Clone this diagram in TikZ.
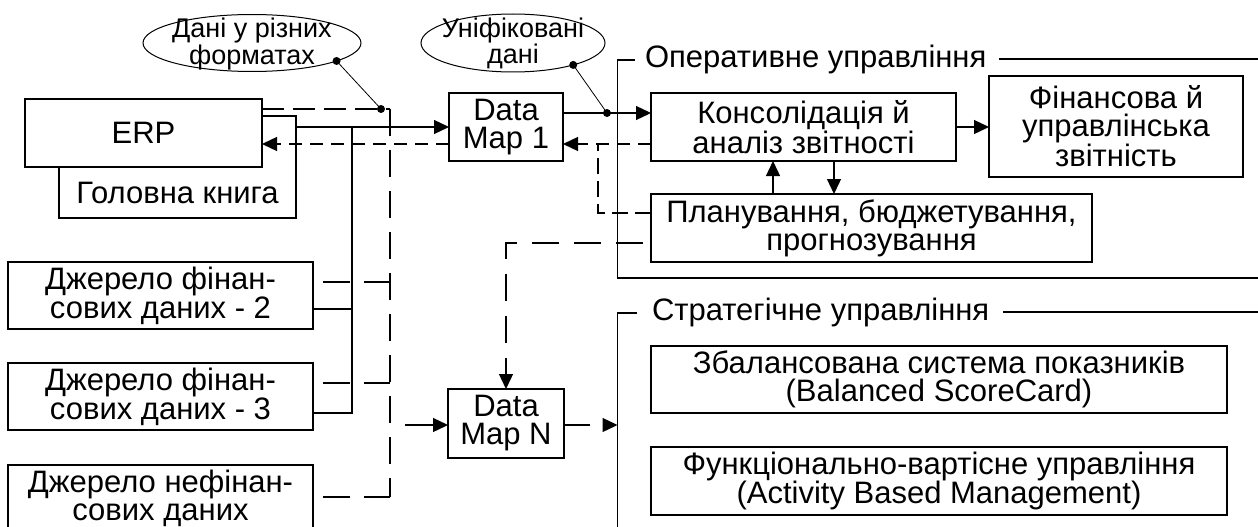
\documentclass[tikz,border=0pt]{standalone}
\usepackage{fontspec}
\setmainfont{Liberation Sans}
\usetikzlibrary{arrows.meta,shapes.geometric,calc}

\begin{document}
\begin{tikzpicture}[x=1pt,y=-1pt,
  every node/.style={inner sep=0pt,outer sep=0pt},
  box/.style={draw,fill=white,line width=1.3pt,align=center,
    font=\fontsize{31}{28}\selectfont},
  txt/.style={align=center,font=\fontsize{31}{28}\selectfont},
  oval/.style={ellipse,draw,line width=1pt},
  otxt/.style={align=center,font=\fontsize{27}{20.5}\selectfont},
  conn/.style={line width=1.3pt},
  pin/.style={line width=0.8pt},
  tip/.style={-{Triangle[length=15pt,width=14pt]}},
  busdash/.style={dash pattern=on 27pt off 14pt},
  srcdash/.style={dash pattern=on 27pt off 14pt,dash phase=31pt},
  backdash/.style={dash pattern=on 13pt off 8pt},
]
\useasboundingbox (0,0) rectangle (1258,527);
\clip (0,0) rectangle (1258,527);

% callouts
\node[oval,minimum width=218pt,minimum height=57pt] (e1) at (252,43) {};
\node[otxt] (e1t) at (252,44) {Дані у різних\\форматах};
\node[oval,minimum width=184pt,minimum height=58pt] (e2) at (513,43) {};
\node[otxt] (e2t) at (513,43) {Уніфіковані\\дані};

% sources
\node[box,minimum width=237pt,minimum height=102pt] (gk) at (177.5,167) {};
\node[txt] (gkt) at (177.5,193) {Головна книга};
\node[box,minimum width=237pt,minimum height=68pt] (erp) at (143.5,133) {ERP};
\node[box,minimum width=305pt,minimum height=67pt] (src2) at (160.5,295.5)
  {Джерело фінан-\\сових даних - 2};
\node[box,minimum width=305pt,minimum height=67pt] (src3) at (160.5,396.5)
  {Джерело фінан-\\сових даних - 3};
\node[box,minimum width=305pt,minimum height=67pt] (src4) at (160.5,498.5)
  {Джерело нефінан-\\сових даних};

% data maps
\node[box,minimum width=114pt,minimum height=68pt] (dm1) at (506,127) {Data\\Map 1};
\node[box,minimum width=116pt,minimum height=69pt] (dmn) at (506,423.5) {Data\\Map N};

% operational management
\node[txt,anchor=base west] (opl) at (645,67) {Оперативне управління};
\node[box,minimum width=305pt,minimum height=68pt] (cons) at (803.5,127)
  {Консолідація й\\аналіз звітності};
\node[box,minimum width=254pt,minimum height=101pt] (fin) at (1116,126.5)
  {Фінансова й\\управлінська\\звітність};
\node[box,minimum width=441pt,minimum height=68pt] (plan) at (871.5,228)
  {Планування, бюджетування,\\прогнозування};

% strategic management
\node[txt,anchor=base west] (spl) at (652,320) {Стратегічне управління};
\node[box,minimum width=576pt,minimum height=67pt] (bsc) at (939,379.5)
  {Збалансована система показників\\(Balanced ScoreCard)};
\node[box,minimum width=576pt,minimum height=68pt] (abm) at (939,481)
  {Функціонально-вартісне управління\\(Activity Based Management)};

% group frames
\draw[conn] (635,60) -- (617.5,60) -- (617.5,278) -- (1260,278);
\draw[conn] (999,59) -- (1260,59);
\draw[conn] (637,313) -- (617.5,313) -- (617.5,530);
\draw[conn] (1003,312) -- (1260,312);

% financial data bus (solid)
\coordinate (sb) at (352,127);
\coordinate (s2s) at ($(src2.east)+(0,13.5)$);
\coordinate (s3s) at ($(src3.east)+(0,16.5)$);
\draw[conn,tip] (gk.east |- dm1.west) -- (dm1.west);
\draw[conn] (s2s) -- (sb |- s2s);
\draw[conn] (s3s) -- (sb |- s3s) -- (sb);

% raw data bus (dashed)
\coordinate (db) at (390,109);
\coordinate (s2d) at ($(src2.east)+(0,-13.5)$);
\coordinate (s3d) at ($(src3.east)+(0,-13.5)$);
\coordinate (s4d) at ($(src4.east)+(0,-1.5)$);
\draw[conn,dash pattern=on 22pt off 9pt] (erp.east |- db) -- (db);
\draw[conn,busdash] (db) -- (db |- s4d);
\draw[conn,srcdash] (s2d) -- (db |- s2d);
\draw[conn,srcdash] (s3d) -- (db |- s3d);
\draw[conn,srcdash] (s4d) -- (db |- s4d);
\coordinate (dnin) at (405,425);
\draw[conn,tip] (dnin) -- (dmn.west |- dnin);

% unified data
\coordinate (u) at ($(dm1.east)+(0,-14)$);
\draw[conn,tip] (u) -- (cons.west |- u);
\coordinate (sx) at (617.5,425);
\draw[conn,dash pattern=on 26pt off 40pt,tip] (dmn.east |- sx) -- (sx);

% feedback
\coordinate (b1) at ($(cons.west)+(0,17)$);
\coordinate (b0) at ($(dm1.west)+(0,17)$);
\draw[conn,backdash,tip] (b1) -- (dm1.east |- b1);
\draw[conn,backdash,tip] (b0) -- (erp.east |- b0);
\coordinate (pf) at ($(plan.west)+(0,-15)$);
\coordinate (fx) at (598,144);
\draw[conn,dash pattern=on 16pt off 7pt] (pf) -| (fx);
\coordinate (pn) at ($(plan.west)+(0,15)$);
\draw[conn,dash pattern=on 27pt off 15pt,dash phase=34pt,tip] (pn) -| (dmn.north);

% consolidation <-> planning, reporting
\coordinate (ua) at ($(cons.south)+(-30.5,0)$);
\coordinate (da) at ($(cons.south)+(30.5,0)$);
\draw[conn,tip] (ua |- plan.north) -- (ua);
\draw[conn,tip] (da) -- (da |- plan.north);
\draw[conn,tip] (cons.east) -- (fin.west |- cons.east);

% callout pins
\coordinate (dd) at (381,109);
\coordinate (ud) at (607,113);
\draw[pin] (e1.-12.5) -- (dd);
\draw[pin] (e2.-20) -- (ud);
\fill (e1.-12.5) circle (4pt);
\fill (dd) circle (4pt);
\fill (e2.-20) circle (4pt);
\fill (ud) circle (4pt);
\end{tikzpicture}
\end{document}
